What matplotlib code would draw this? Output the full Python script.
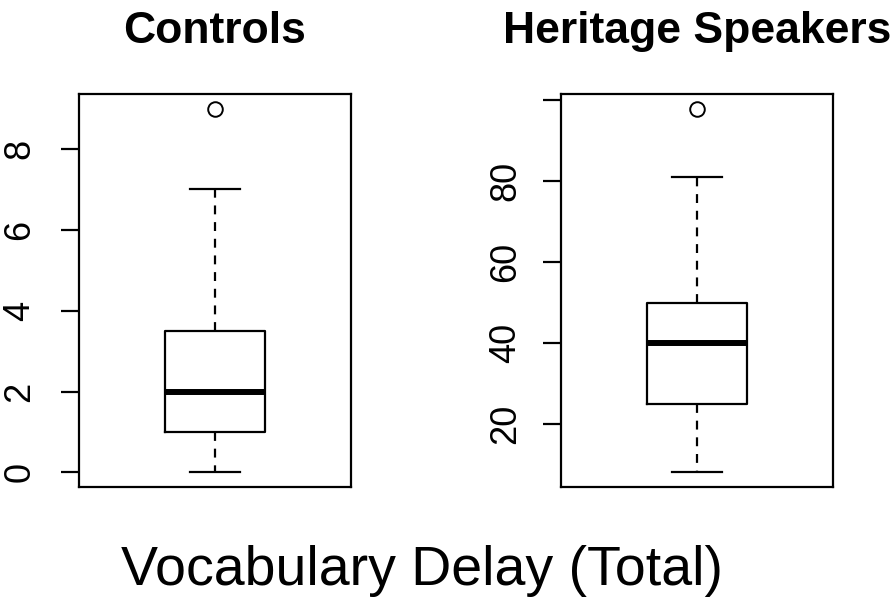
import matplotlib
matplotlib.use("Agg")
import matplotlib.pyplot as plt

plt.rcParams['font.family'] = ['Liberation Sans', 'DejaVu Sans']

# Box summaries (R-style boxplot)
panel_titles = ["Controls", "Heritage Speakers"]
lower_whisker = [0, 8]
q1 = [1, 25]
median = [2, 40]
q3 = [3.5, 50]
upper_whisker = [7, 81]
outliers = [[9], [98]]
y_ticks = [[0, 2, 4, 6, 8], [20, 40, 60, 80, 100]]
y_tick_labels = [["0", "2", "4", "6", "8"], ["20", "40", "60", "80", ""]]
outer_title = "Vocabulary Delay (Total)"

W, H = 896, 600
fig = plt.figure(figsize=(W / 100, H / 100), dpi=100)

# panel boxes in pixel coordinates: left, top, right, bottom
panels = [(79, 94, 351, 487), (561, 94, 833, 487)]
pads = [17, 14]

for i, (l, t, r, b) in enumerate(panels):
    ax = fig.add_axes([l / W, 1 - b / H, (r - l) / W, (b - t) / H])
    stats = [{
        'whislo': lower_whisker[i], 'q1': q1[i], 'med': median[i],
        'q3': q3[i], 'whishi': upper_whisker[i], 'fliers': outliers[i],
    }]
    ax.bxp(stats, positions=[1], widths=0.4, capwidths=0.2,
           boxprops=dict(color='black', linewidth=1.6),
           whiskerprops=dict(color='black', linewidth=1.6, linestyle=(0, (4, 3.5))),
           capprops=dict(color='black', linewidth=1.6),
           medianprops=dict(color='black', linewidth=4.3, solid_capstyle='butt'),
           flierprops=dict(marker='o', markersize=10.5, markerfacecolor='none',
                           markeredgecolor='black', markeredgewidth=1.4))
    lo = min(lower_whisker[i], min(outliers[i]))
    hi = max(upper_whisker[i], max(outliers[i]))
    ext = 0.04 * (hi - lo)
    ax.set_ylim(lo - ext, hi + ext)
    ax.set_xlim(0.46, 1.54)
    ax.set_xticks([])
    ax.set_yticks(y_ticks[i])
    ax.set_yticklabels(y_tick_labels[i], rotation=90, va='center', fontsize=26)
    ax.tick_params(axis='y', length=13, width=1.6, pad=pads[i])
    for s in ax.spines.values():
        s.set_linewidth(1.6)
    fig.text((l + r) / 2 / W, 1 - 43 / H, panel_titles[i], ha='center',
             va='baseline', fontsize=32, fontweight='bold')

fig.text(422 / W, 1 - 585 / H, outer_title, ha='center', va='baseline', fontsize=40)

fig.savefig('out.png', dpi=100)
